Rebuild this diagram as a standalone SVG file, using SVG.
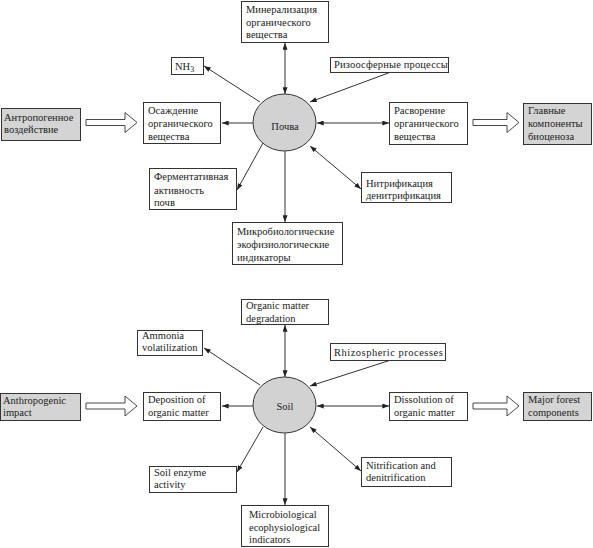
<svg xmlns="http://www.w3.org/2000/svg" width="593" height="548" viewBox="0 0 593 548" font-family="'Liberation Serif', 'DejaVu Serif', serif">
<style>
.b{fill:#fff;stroke:#333;stroke-width:1}
.g{fill:#d4d4d4;stroke:#333;stroke-width:1}
.e{fill:#d2d2d2;stroke:#333;stroke-width:1}
.t{font-family:'Liberation Serif','DejaVu Serif',serif;font-size:10.5px;fill:#222}
.c{stroke:#333;stroke-width:1;fill:none}
.h{fill:#fff;stroke:#333;stroke-width:0.9}
</style>
<defs>
<marker id="a" viewBox="0 0 8 6" refX="8" refY="3" markerWidth="7" markerHeight="5" orient="auto-start-reverse" markerUnits="userSpaceOnUse">
<path d="M0,0 L8,3 L0,6 z" fill="#222"/>
</marker>
</defs>
<rect width="593" height="548" fill="#fff"/>

<g id="connectors">
<line class="c" x1="285" y1="43" x2="285" y2="94" marker-start="url(#a)" marker-end="url(#a)"/>
<line class="c" x1="260" y1="102" x2="204" y2="66" marker-end="url(#a)"/>
<line class="c" x1="391" y1="72" x2="310" y2="102" marker-end="url(#a)"/>
<line class="c" x1="253" y1="123" x2="222" y2="123" marker-end="url(#a)"/>
<line class="c" x1="317" y1="123" x2="389" y2="123" marker-start="url(#a)" marker-end="url(#a)"/>
<line class="c" x1="263" y1="143" x2="237" y2="190" marker-end="url(#a)"/>
<line class="c" x1="285" y1="151" x2="285" y2="222" marker-end="url(#a)"/>
<line class="c" x1="310" y1="146" x2="361" y2="189" marker-start="url(#a)" marker-end="url(#a)"/>
<path class="h" d="M86,119.5 H125 V112.5 L137,122.5 L125,132.5 V125.5 H86 Z"/>
<path class="h" d="M473,119.5 H507 V112.5 L519,122.5 L507,132.5 V125.5 H473 Z"/>
<line class="c" x1="285" y1="325" x2="285" y2="377" marker-start="url(#a)" marker-end="url(#a)"/>
<line class="c" x1="260" y1="385" x2="204" y2="348" marker-end="url(#a)"/>
<line class="c" x1="391" y1="360" x2="310" y2="386" marker-end="url(#a)"/>
<line class="c" x1="253" y1="406" x2="222" y2="406" marker-end="url(#a)"/>
<line class="c" x1="317" y1="406" x2="389" y2="406" marker-start="url(#a)" marker-end="url(#a)"/>
<line class="c" x1="263" y1="427" x2="237" y2="472" marker-end="url(#a)"/>
<line class="c" x1="285" y1="433" x2="285" y2="505" marker-end="url(#a)"/>
<line class="c" x1="310" y1="427" x2="361" y2="471" marker-start="url(#a)" marker-end="url(#a)"/>
<path class="h" d="M86,403 H125 V396 L137,406 L125,416 V409 H86 Z"/>
<path class="h" d="M473,403 H507 V396 L519,406 L507,416 V409 H473 Z"/>
</g>

<g id="ru-mineral"><rect class="b" x="241.5" y="1.5" width="87" height="41"/>
<text class="t" x="246" y="13">Минерализация</text><text class="t" x="246" y="25.5">органического</text><text class="t" x="246" y="38">вещества</text></g>
<g id="ru-nh3"><rect class="b" x="171.5" y="57.5" width="32" height="17"/>
<text class="t" x="175" y="70">NH<tspan font-size="8" dy="2">3</tspan></text></g>
<g id="ru-rhizo"><rect class="b" x="330.5" y="57.5" width="118" height="15"/>
<text class="t" x="334" y="68" letter-spacing="0.15">Ризоосферные процессы</text></g>
<g id="ru-anthro"><rect class="g" x="1.5" y="108.5" width="79" height="32"/>
<text class="t" x="4" y="120.5">Антропогенное</text><text class="t" x="4" y="133">воздействие</text></g>
<g id="ru-deposit"><rect class="b" x="143.5" y="102.5" width="77" height="41"/>
<text class="t" x="148" y="113.5">Осаждение</text><text class="t" x="148" y="127">органического</text><text class="t" x="148" y="140">вещества</text></g>
<g id="ru-soil"><ellipse class="e" cx="284.5" cy="122.5" rx="31.5" ry="28.5"/>
<text class="t" x="285" y="129.5" text-anchor="middle">Почва</text></g>
<g id="ru-dissol"><rect class="b" x="389.5" y="102.5" width="78" height="42"/>
<text class="t" x="394" y="113.5">Расворение</text><text class="t" x="394" y="127">органического</text><text class="t" x="394" y="140">вещества</text></g>
<g id="ru-major"><rect class="g" x="523.5" y="103.5" width="68" height="41"/>
<text class="t" x="528" y="114">Главные</text><text class="t" x="528" y="127">компоненты</text><text class="t" x="528" y="140">биоценоза</text></g>
<g id="ru-enzyme"><rect class="b" x="149.5" y="168.5" width="87" height="41"/>
<text class="t" x="154" y="180">Ферментативная</text><text class="t" x="154" y="193.5">активность</text><text class="t" x="154" y="206">почв</text></g>
<g id="ru-micro"><rect class="b" x="232.5" y="222.5" width="110" height="42"/>
<text class="t" x="237" y="234.5">Микробиологические</text><text class="t" x="237" y="247.5">экофизиологические</text><text class="t" x="237" y="260.5">индикаторы</text></g>
<g id="ru-nitri"><rect class="b" x="361.5" y="172.5" width="90" height="30"/>
<text class="t" x="366" y="186.5">Нитрификация</text><text class="t" x="366" y="199">денитрификация</text></g>

<g id="en-degrad"><rect class="b" x="241.5" y="299.5" width="87" height="25"/>
<text class="t" x="246" y="309">Organic matter</text><text class="t" x="246" y="322">degradation</text></g>
<g id="en-ammonia"><rect class="b" x="137.5" y="330.5" width="65" height="25"/>
<text class="t" x="142" y="339">Ammonia</text><text class="t" x="142" y="351">volatilization</text></g>
<g id="en-rhizo"><rect class="b" x="330.5" y="343.5" width="115" height="17"/>
<text class="t" x="334" y="355.5" letter-spacing="0.5">Rhizospheric processes</text></g>
<g id="en-anthro"><rect class="g" x="0.5" y="393.5" width="80" height="27"/>
<text class="t" x="3" y="404">Anthropogenic</text><text class="t" x="3" y="416">impact</text></g>
<g id="en-deposit"><rect class="b" x="143.5" y="392.5" width="77" height="28"/>
<text class="t" x="148" y="403">Deposition of</text><text class="t" x="148" y="416">organic matter</text></g>
<g id="en-soil"><ellipse class="e" cx="284.5" cy="405" rx="31.5" ry="28"/>
<text class="t" x="285" y="410" text-anchor="middle">Soil</text></g>
<g id="en-dissol"><rect class="b" x="389.5" y="392.5" width="78" height="28"/>
<text class="t" x="394" y="403">Dissolution of</text><text class="t" x="394" y="416">organic matter</text></g>
<g id="en-major"><rect class="g" x="523.5" y="392.5" width="68" height="28"/>
<text class="t" x="528" y="403">Major forest</text><text class="t" x="528" y="416">components</text></g>
<g id="en-enzyme"><rect class="b" x="149.5" y="466.5" width="87" height="26"/>
<text class="t" x="154" y="476">Soil enzyme</text><text class="t" x="154" y="488">activity</text></g>
<g id="en-micro"><rect class="b" x="241.5" y="505.5" width="87" height="41"/>
<text class="t" x="249" y="518">Microbiological</text><text class="t" x="249" y="530.5">ecophysiological</text><text class="t" x="249" y="543">indicators</text></g>
<g id="en-nitri"><rect class="b" x="361.5" y="457.5" width="90" height="29"/>
<text class="t" x="366" y="469">Nitrification and</text><text class="t" x="366" y="481">denitrification</text></g>
</svg>
